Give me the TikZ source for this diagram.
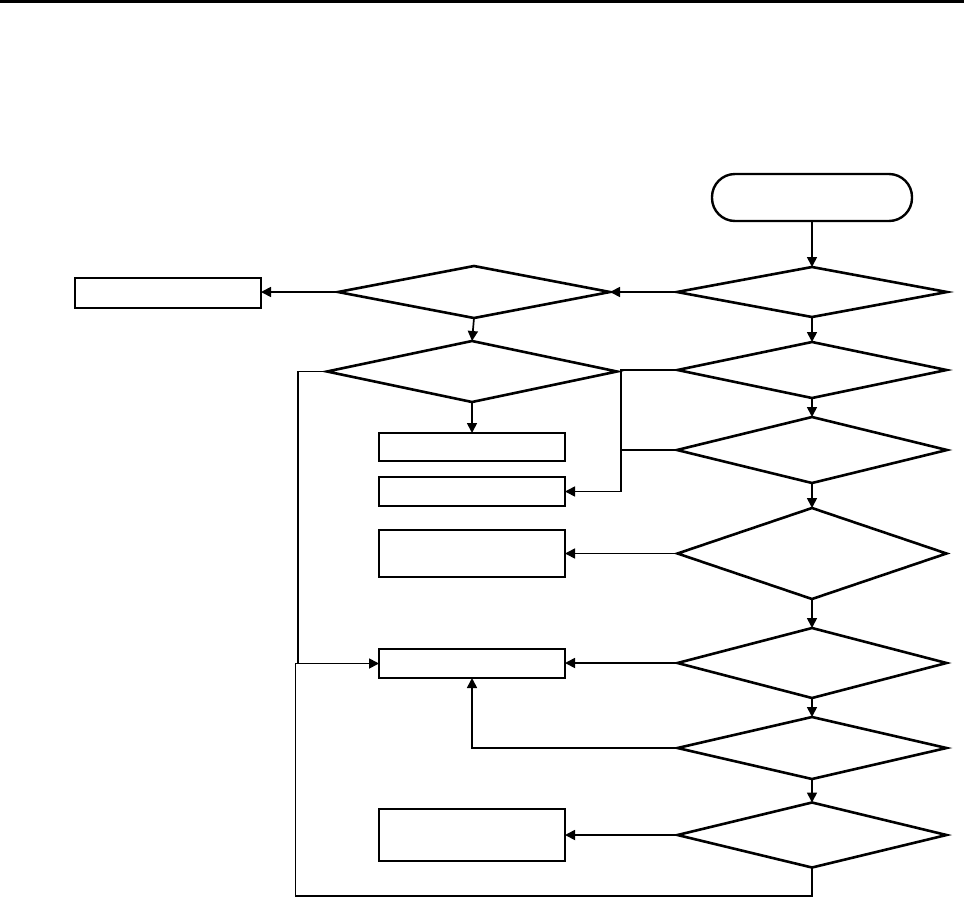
\documentclass[tikz,border=0pt]{standalone}
\usetikzlibrary{shapes.geometric,arrows.meta}
\begin{document}
\begin{tikzpicture}[x=1pt,y=-1pt,
  dec/.style={diamond, draw, line width=2.6pt, inner sep=0pt, outer sep=0pt},
  boxy/.style={rectangle, draw, line width=2.7pt, inner sep=0pt, outer sep=0pt, minimum width=186pt},
  term/.style={rectangle, draw, line width=2.4pt, rounded corners=23pt, inner sep=0pt, outer sep=0pt, minimum width=200pt, minimum height=47pt},
  conn/.style={line width=1.7pt},
  arr/.style={conn, -{Triangle[length=10pt,width=10pt]}}]
\fill[white] (0,0) rectangle (964,900);
\useasboundingbox (0,0) rectangle (964,900);
\fill[black] (0,0) rectangle (964,2.8);
% nodes
\node[term] (T) at (812,197.5) {};
\node[dec, minimum width=270pt, minimum height=50pt] (D1) at (812,292) {};
\node[dec, minimum width=272pt, minimum height=52pt] (D2) at (474,292) {};
\node[boxy, minimum height=30pt] (B0) at (168,293) {};
\node[dec, minimum width=290pt, minimum height=61pt] (D3) at (472,371.5) {};
\node[dec, minimum width=269pt, minimum height=56pt] (D4) at (812,370) {};
\node[dec, minimum width=270pt, minimum height=66pt] (D5) at (812,450) {};
\node[boxy, minimum height=28pt] (B1) at (472,447) {};
\node[boxy, minimum height=29pt] (B2) at (472,491.5) {};
\node[dec, minimum width=269pt, minimum height=91pt] (D6) at (812,553.5) {};
\node[boxy, minimum height=47pt] (B3) at (472,553.5) {};
\node[dec, minimum width=269pt, minimum height=70pt] (D7) at (812,663) {};
\node[boxy, minimum height=29pt] (B4) at (472,663.5) {};
\node[dec, minimum width=269pt, minimum height=62pt] (D8) at (812,748) {};
\node[dec, minimum width=269pt, minimum height=65pt] (D9) at (812,835) {};
\node[boxy, minimum height=52pt] (B5) at (472,835) {};
\coordinate (jx) at (621,0);
\coordinate (lx) at (298,0);
\coordinate (bl) at (295.5,896);
% connectors
\draw[arr] (T.south) -- (D1.north);
\draw[arr] (D1.west) -- (D1.west -| D2.east);
\draw[arr] (D2.west) -- (D2.west -| B0.east);
\draw[arr] (D2.south) -- (D3.north);
\draw[arr] (D3.south) -- (B1.north);
\draw[arr] (D1.south) -- (D4.north);
\draw[arr] (D4.south) -- (D5.north);
\draw[arr] (D5.south) -- (D6.north);
\draw[arr] (D6.south) -- (D7.north);
\draw[arr] (D7.south) -- (D8.north);
\draw[arr] (D8.south) -- (D9.north);
\draw[arr] (D4.west) -- (D4.west -| jx) |- (B2.east);
\draw[conn] (D5.west) -- (D5.west -| jx);
\draw[arr] (D6.west) -- (B3.east);
\draw[arr] (D7.west) -- (D7.west -| B4.east);
\draw[arr] (D8.west) -| (B4.south);
\draw[arr] (D9.west) -- (B5.east);
\draw[conn] (D3.west) -- (D3.west -| lx) -- (lx |- B4.west);
\draw[arr] (D9.south) |- (bl) |- (B4.west);
\end{tikzpicture}
\end{document}
